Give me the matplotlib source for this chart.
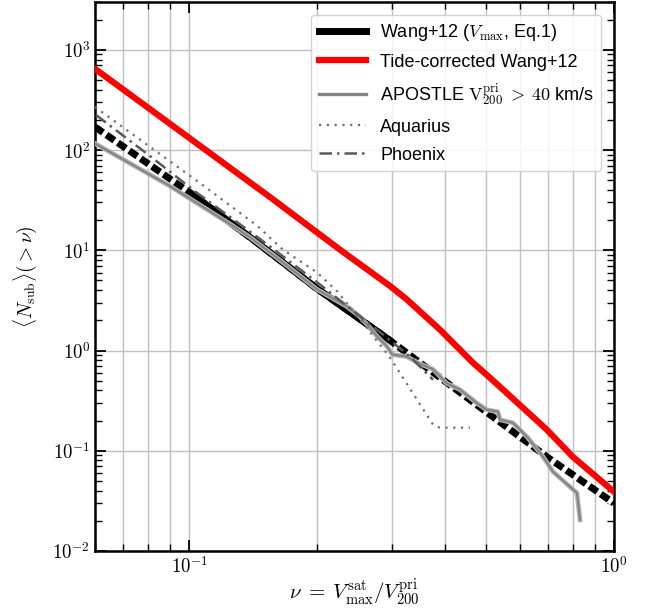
import matplotlib
matplotlib.use("Agg")
import matplotlib.pyplot as plt
from matplotlib.lines import Line2D
from matplotlib.ticker import FuncFormatter, LogLocator
import matplotlib.patheffects as pe
import numpy as np

plt.rcParams['mathtext.fontset'] = 'cm'
plt.rcParams['font.family'] = ['Liberation Sans', 'DejaVu Sans']

# ---------------------------------------------------------------------------
# data
# ---------------------------------------------------------------------------
wang_nu = [0.060, 0.100, 0.139, 0.1995, 0.297, 0.501, 0.695, 1.0]
wang_n = [170, 38, 13.5, 4.17, 1.26, 0.243, 0.087, 0.030]
wang_solid_range = (0.10, 0.50)

tide_nu = [0.060, 0.155, 0.226, 0.297, 0.325, 0.389, 0.466, 0.511,
           0.592, 0.695, 0.80, 1.0]
tide_n = [646, 33.9, 10.2, 4.4, 3.24, 1.62, 0.753, 0.533,
          0.302, 0.162, 0.087, 0.039]

apostle_nu = [0.0603, 0.0901, 0.125, 0.139, 0.166, 0.200, 0.235, 0.252, 0.266,
              0.277, 0.292, 0.301, 0.325, 0.349, 0.375, 0.404, 0.433, 0.475,
              0.501, 0.533, 0.539, 0.578, 0.624, 0.681, 0.718, 0.801, 0.818, 0.832]
apostle_n = [115, 43.7, 18.2, 13.5, 7.6, 4.07, 2.75, 2.19, 1.70,
             1.38, 1.10, 0.91, 0.87, 0.74, 0.65, 0.47, 0.41, 0.30,
             0.257, 0.245, 0.204, 0.19, 0.138, 0.087, 0.062, 0.041, 0.038, 0.0204]

aquarius_nu = [0.060, 0.106, 0.144, 0.166, 0.200, 0.223, 0.257, 0.297, 0.375, 0.389, 0.458]
aquarius_n = [269, 46.8, 17.8, 10.2, 6.0, 3.9, 1.86, 0.85, 0.182, 0.170, 0.170]

phoenix_nu = [0.0603, 0.0809, 0.103, 0.147, 0.203, 0.282, 0.331, 0.375]
phoenix_n = [224, 87, 38.9, 12.9, 4.57, 1.51, 0.87, 0.51]

labels = [r'Wang+12 ($V_{\rm max}$, Eq.1)',
          'Tide-corrected Wang+12',
          r'APOSTLE $\mathrm{V}_{200}^{\rm pri}\;>\;40$ km/s',
          'Aquarius',
          'Phoenix']

# ---------------------------------------------------------------------------

fig = plt.figure(figsize=(6.49, 6.12), dpi=100)
ax = fig.add_axes([95 / 649, 61 / 612, 519 / 649, 549 / 612])
ax.set_xscale('log')
ax.set_yscale('log')

# Wang+12: dashed over full range, solid where it is constrained
ax.plot(wang_nu, wang_n, color='black', lw=5, dashes=(1.4, 0.6),
        gapcolor='white', zorder=2)
wnu = np.array(wang_nu)
m = (wnu >= wang_solid_range[0]) & (wnu <= wang_solid_range[1])
ax.plot(wnu[m], np.array(wang_n)[m], color='black', lw=5,
        solid_capstyle='butt', zorder=2.1)

ax.plot(tide_nu, tide_n, color='red', lw=4.5, zorder=3)

ax.plot(apostle_nu, apostle_n, color='#858585', lw=1.6, zorder=4,
        path_effects=[pe.Stroke(linewidth=3.4, foreground='#b5b5b5'), pe.Normal()])
ax.plot(aquarius_nu, aquarius_n, color='#707070', lw=1.6, dashes=(1, 2.5), zorder=4)
ax.plot(phoenix_nu, phoenix_n, color='#5a5a5a', lw=1.8, dashes=(5, 2, 1, 2), zorder=4)

ax.set_xlim(0.06, 1.0)
ax.set_ylim(1e-2, 3e3)

ax.grid(True, which='both', axis='x', color='#c0c0c0', lw=1.0, zorder=0)
ax.grid(True, which='major', axis='y', color='#c0c0c0', lw=1.0, zorder=0)
ax.set_axisbelow(True)

fmt = FuncFormatter(lambda v, p: r'$10^{%d}$' % int(round(np.log10(v))))
ax.xaxis.set_major_formatter(fmt)
ax.yaxis.set_major_formatter(fmt)
ax.yaxis.set_major_locator(LogLocator(base=10, numticks=20))
ax.yaxis.set_minor_locator(LogLocator(base=10, subs=np.arange(2, 10), numticks=20))

ax.tick_params(which='both', direction='in', top=True, right=True, labelsize=13.5)
ax.tick_params(which='major', length=8, width=1.3)
ax.tick_params(which='minor', length=5, width=1.0)
ax.xaxis.set_minor_formatter(FuncFormatter(lambda v, p: ''))
for s in ax.spines.values():
    s.set_linewidth(1.8)

ax.set_xlabel(r'$\nu\;=\;V_{\rm max}^{\rm sat}/V_{200}^{\rm pri}$', fontsize=15, labelpad=0)
ax.set_ylabel(r'$\langle N_{\rm sub}\rangle(>\nu)$', fontsize=14, labelpad=10)

handles = [Line2D([], [], color='black', lw=5),
           Line2D([], [], color='red', lw=4.5),
           Line2D([], [], color='#858585', lw=2.4),
           Line2D([], [], color='#707070', lw=1.6, dashes=(1, 2.5)),
           Line2D([], [], color='#5a5a5a', lw=1.8, dashes=(5, 2, 1, 2))]
leg = ax.legend(handles, labels, loc='upper right', fontsize=13,
                handlelength=2.6, labelspacing=0.6, framealpha=0.85,
                borderaxespad=0.7, edgecolor='#cccccc', fancybox=True)

fig.savefig('out.png', dpi=100)
